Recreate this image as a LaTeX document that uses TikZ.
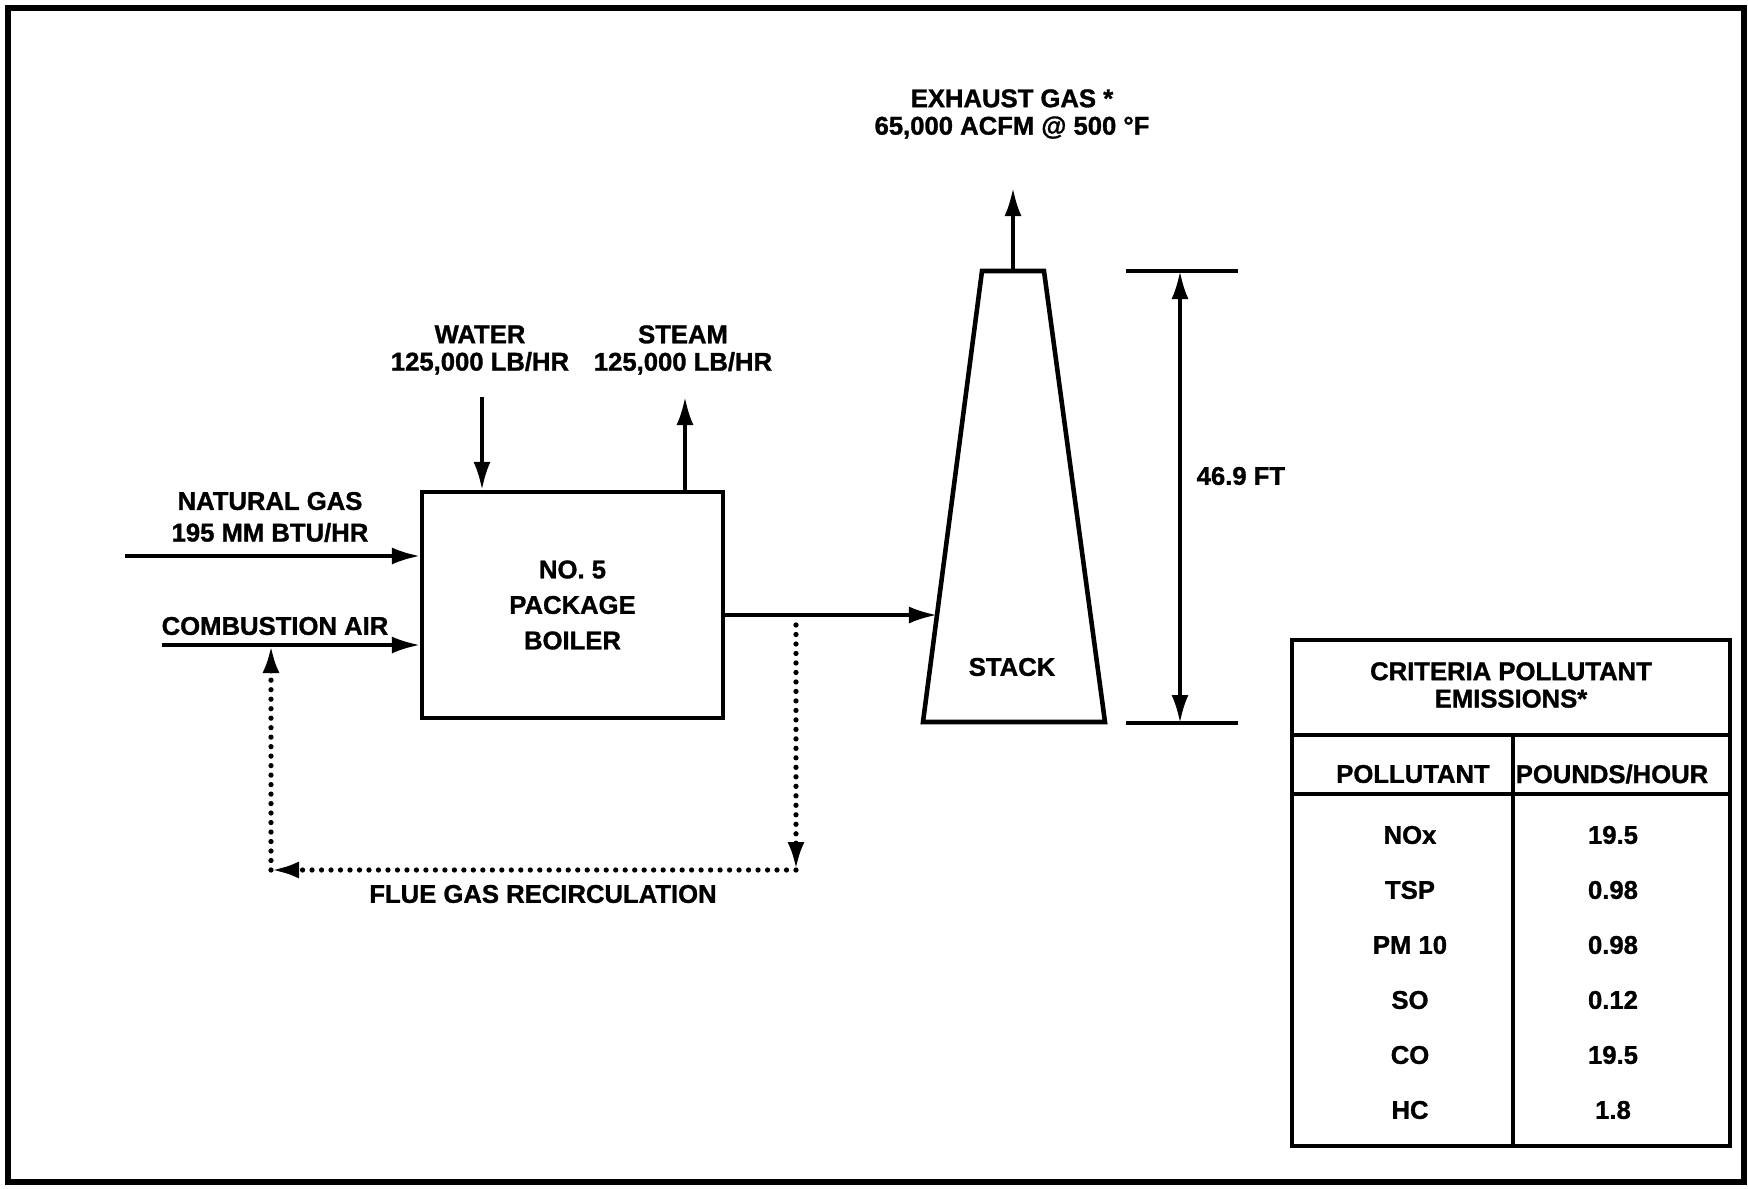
\documentclass[tikz,border=0pt]{standalone}
\usepackage{fontspec}
\setmainfont{Liberation Sans}[BoldFeatures={FakeBold=1.2}]
\usetikzlibrary{arrows.meta, positioning, calc}

\begin{document}
\begin{tikzpicture}[
  lbl/.style={font=\fontsize{7.3}{7.8}\selectfont\bfseries, align=center, inner sep=0pt},
  unit/.style={draw, line width=1.2pt, minimum width=3.01cm, minimum height=2.26cm, inner sep=0pt,
    font=\fontsize{7.3}{10.1}\selectfont\bfseries, align=center},
  arr/.style={-{Latex[length=2.8mm,width=1.7mm]}, line width=1pt},
  dimarr/.style={{Latex[length=2.8mm,width=1.7mm]}-{Latex[length=2.8mm,width=1.7mm]}, line width=1pt},
  recirc/.style={arr, line width=1.5pt, line cap=round, dash pattern=on 0pt off 2.7pt},
  rule/.style={line width=1.3pt}
]
\useasboundingbox (0,0) rectangle (17.48,11.88);
\draw[line width=1.5pt] (0.08,0.06) rectangle (17.44,11.80);

% boiler and its feeds
\node[unit] (boiler) at (5.725,5.83) {NO. 5\\PACKAGE\\BOILER};
\coordinate (ng) at (1.25,6.32);
\coordinate (ca) at (1.62,5.43);
\coordinate (wtr) at (4.82,7.91);
\coordinate (stm) at (6.85,7.91);
\draw[arr] (ng) -- (ng -| boiler.west);
\draw[arr] (ca) -- (ca -| boiler.west);
\draw[arr] (wtr) -- (wtr |- boiler.north);
\draw[arr] (stm |- boiler.north) -- (stm);
\node[lbl] (nglbl) at (2.70,6.71) {NATURAL GAS\\[1.2pt]195 MM BTU/HR};
\node[lbl] (calbl) at (2.75,5.62) {COMBUSTION AIR};
\node[lbl] (wtrlbl) at (4.80,8.38) {WATER\\125,000 LB/HR};
\node[lbl] (stmlbl) at (6.83,8.38) {STEAM\\125,000 LB/HR};

% stack
\coordinate (sbl) at (9.23,4.66);
\coordinate (stl) at (9.82,9.17);
\coordinate (str) at (10.44,9.17);
\coordinate (sbr) at (11.05,4.66);
\draw[rule] (sbl) -- (stl) -- (str) -- (sbr) -- cycle;
\node[lbl] (stacklbl) at (10.12,5.21) {STACK};
\coordinate (out) at ($(boiler.east)+(0,-0.10)$);
\coordinate (stkin) at ($(sbl)!0.237!(stl)$);
\draw[arr] (out) -- (out -| stkin);
\coordinate (stop) at ($(stl)!0.5!(str)$);
\coordinate (exh) at (10.13,10.00);
\draw[arr] (stop) -- (exh);
\node[lbl] (exhlbl) at (10.12,10.74) {EXHAUST GAS *\\65,000 ACFM @ 500 °F};

% flue gas recirculation
\coordinate (tap) at (7.96,5.73);
\coordinate (rcr) at (7.96,3.18);
\coordinate (rcl) at (2.71,3.18);
\draw[recirc] ([yshift=-0.10cm]tap) -- (rcr);
\draw[recirc] (rcr) -- (rcl);
\draw[recirc] (rcl) -- (rcl |- ca);
\node[lbl] (fgrlbl) at (5.43,2.94) {FLUE GAS RECIRCULATION};

% stack height
\coordinate (dt) at (11.80,9.17);
\coordinate (db) at (11.80,4.65);
\draw[rule] ($(dt)+(-0.54,0)$) -- ($(dt)+(0.58,0)$);
\draw[rule] ($(db)+(-0.54,0)$) -- ($(db)+(0.58,0)$);
\draw[dimarr] (dt) -- (db);
\node[lbl, anchor=west] (dimlbl) at (11.96,7.12) {46.9 FT};

% emissions table
\coordinate (tsw) at (12.92,0.42);
\coordinate (tne) at (17.30,5.48);
\draw[rule] (tsw) rectangle (tne);
\draw[rule] (tsw |- 0,4.53) -- (tne |- 0,4.53);
\draw[rule] (tsw |- 0,3.94) -- (tne |- 0,3.94);
\draw[rule] (15.13,4.53) -- (15.13,0.42);
\node[lbl] (ttl) at (15.11,5.03) {CRITERIA POLLUTANT\\EMISSIONS*};
\node[lbl] (hpol) at (14.13,4.14) {POLLUTANT};
\node[lbl] (hlbs) at (16.12,4.14) {POUNDS/HOUR};
\foreach \pol/\val [count=\i] in {NOx/19.5, TSP/0.98, PM 10/0.98, SO/0.12, CO/19.5, HC/1.8} {
  \node[lbl] (pol\i) at (14.10,4.08-0.55*\i) {\pol};
  \node[lbl] (val\i) at (16.13,4.08-0.55*\i) {\val};
}
\end{tikzpicture}
\end{document}
